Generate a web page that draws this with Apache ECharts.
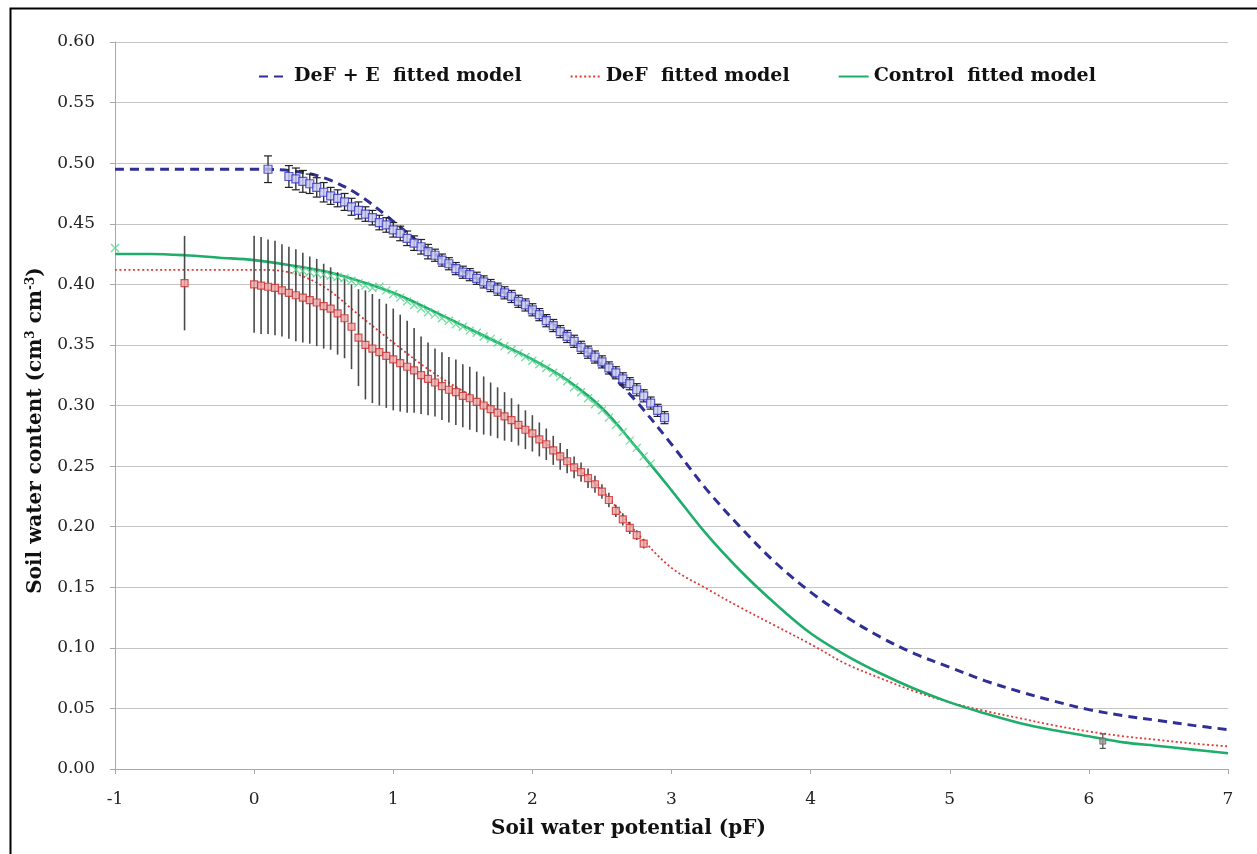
<!DOCTYPE html>
<html>
<head>
<meta charset="utf-8">
<script src="https://cdn.jsdelivr.net/npm/echarts@6/dist/echarts.min.js"></script>
<style>html,body{margin:0;padding:0;background:#fff}#c{width:1257px;height:854px}</style>
</head>
<body>
<div id="c"></div>
<script>
// ---- tick settings ----
const xMin = -1, xMax = 7, xStep = 1;
const yMin = 0, yMax = 0.6, yStep = 0.05;

// ---- fitted models, sampled every 0.25 pF ----
const fitX = [-1, -0.75, -0.5, -0.25, 0, 0.25, 0.5, 0.75, 1.0, 1.25, 1.5, 1.75, 2.0, 2.25, 2.5, 2.75, 3.0, 3.25, 3.5, 3.75, 4.0, 4.25, 4.5, 4.75, 5.0, 5.25, 5.5, 5.75, 6.0, 6.25, 6.5, 6.75, 7.0];
const defeFitY = [0.495, 0.495, 0.495, 0.495, 0.495, 0.494, 0.488, 0.474, 0.452, 0.429, 0.411, 0.396, 0.380, 0.358, 0.333, 0.303, 0.268, 0.231, 0.199, 0.170, 0.146, 0.126, 0.109, 0.095, 0.084, 0.073, 0.064, 0.056, 0.049, 0.044, 0.040, 0.036, 0.0325];
const defFitY = [0.412, 0.412, 0.412, 0.412, 0.412, 0.410, 0.398, 0.375, 0.352, 0.330, 0.312, 0.296, 0.277, 0.255, 0.230, 0.195, 0.166, 0.149, 0.133, 0.118, 0.103, 0.087, 0.075, 0.064, 0.055, 0.048, 0.042, 0.036, 0.031, 0.027, 0.024, 0.021, 0.0187];
const ctrlFitY = [0.425, 0.425, 0.424, 0.422, 0.420, 0.416, 0.411, 0.403, 0.393, 0.380, 0.366, 0.352, 0.338, 0.321, 0.298, 0.265, 0.230, 0.194, 0.163, 0.136, 0.112, 0.094, 0.079, 0.066, 0.055, 0.046, 0.038, 0.032, 0.027, 0.022, 0.019, 0.016, 0.013];

// ---- measured data: DeF + E (blue squares, small error bars) ----
const defeX = [0.10, 0.25, 0.30, 0.35, 0.40, 0.45, 0.50, 0.55, 0.60, 0.65, 0.70, 0.75, 0.80, 0.85, 0.90, 0.95, 1.00, 1.05, 1.10, 1.15, 1.20, 1.25, 1.30, 1.35, 1.40, 1.45, 1.50, 1.55, 1.60, 1.65, 1.70, 1.75, 1.80, 1.85, 1.90, 1.95, 2.00, 2.05, 2.10, 2.15, 2.20, 2.25, 2.30, 2.35, 2.40, 2.45, 2.50, 2.55, 2.60, 2.65, 2.70, 2.75, 2.80, 2.85, 2.90, 2.95];
const defeY = [0.495, 0.489, 0.487, 0.485, 0.483, 0.480, 0.476, 0.473, 0.471, 0.468, 0.464, 0.461, 0.458, 0.455, 0.451, 0.449, 0.445, 0.442, 0.438, 0.434, 0.431, 0.427, 0.424, 0.420, 0.417, 0.413, 0.410, 0.408, 0.405, 0.402, 0.399, 0.396, 0.393, 0.390, 0.386, 0.383, 0.379, 0.375, 0.370, 0.366, 0.361, 0.357, 0.353, 0.348, 0.344, 0.340, 0.336, 0.331, 0.327, 0.322, 0.318, 0.313, 0.308, 0.302, 0.296, 0.290];
const defeErr = [0.011, 0.009, 0.009, 0.009, 0.008, 0.008, 0.008, 0.007, 0.007, 0.007, 0.007, 0.007, 0.006, 0.006, 0.006, 0.006, 0.006, 0.006, 0.006, 0.006, 0.006, 0.006, 0.005, 0.005, 0.005, 0.005, 0.005, 0.005, 0.005, 0.005, 0.005, 0.005, 0.005, 0.005, 0.005, 0.005, 0.005, 0.005, 0.005, 0.005, 0.005, 0.005, 0.005, 0.005, 0.005, 0.005, 0.005, 0.005, 0.005, 0.005, 0.005, 0.005, 0.005, 0.005, 0.005, 0.005];

// ---- measured data: DeF (red squares, large error bars) ----
const defX = [-0.50, 0.00, 0.05, 0.10, 0.15, 0.20, 0.25, 0.30, 0.35, 0.40, 0.45, 0.50, 0.55, 0.60, 0.65, 0.70, 0.75, 0.80, 0.85, 0.90, 0.95, 1.00, 1.05, 1.10, 1.15, 1.20, 1.25, 1.30, 1.35, 1.40, 1.45, 1.50, 1.55, 1.60, 1.65, 1.70, 1.75, 1.80, 1.85, 1.90, 1.95, 2.00, 2.05, 2.10, 2.15, 2.20, 2.25, 2.30, 2.35, 2.40, 2.45, 2.50, 2.55, 2.60, 2.65, 2.70, 2.75, 2.80];
const defY = [0.401, 0.400, 0.399, 0.398, 0.397, 0.395, 0.393, 0.391, 0.389, 0.387, 0.385, 0.382, 0.380, 0.376, 0.372, 0.365, 0.356, 0.350, 0.347, 0.344, 0.341, 0.338, 0.335, 0.332, 0.329, 0.325, 0.322, 0.319, 0.316, 0.313, 0.311, 0.308, 0.306, 0.303, 0.300, 0.297, 0.294, 0.291, 0.288, 0.284, 0.280, 0.277, 0.272, 0.268, 0.263, 0.258, 0.254, 0.249, 0.245, 0.240, 0.235, 0.229, 0.222, 0.213, 0.206, 0.199, 0.193, 0.186];
const defErr = [0.039, 0.040, 0.040, 0.039, 0.039, 0.038, 0.038, 0.038, 0.037, 0.036, 0.036, 0.035, 0.034, 0.034, 0.033, 0.035, 0.040, 0.045, 0.045, 0.044, 0.043, 0.042, 0.040, 0.038, 0.035, 0.032, 0.030, 0.028, 0.028, 0.027, 0.027, 0.026, 0.026, 0.025, 0.024, 0.022, 0.021, 0.020, 0.018, 0.017, 0.016, 0.015, 0.014, 0.013, 0.012, 0.011, 0.010, 0.009, 0.008, 0.008, 0.007, 0.006, 0.006, 0.005, 0.005, 0.005, 0.004, 0.004];

// ---- measured data: Control (green crosses) ----
const ctrlX = [-1.00, 0.30, 0.35, 0.40, 0.45, 0.50, 0.55, 0.60, 0.65, 0.70, 0.75, 0.80, 0.85, 0.90, 0.95, 1.00, 1.05, 1.10, 1.15, 1.20, 1.25, 1.30, 1.35, 1.40, 1.45, 1.50, 1.55, 1.60, 1.65, 1.70, 1.75, 1.80, 1.85, 1.90, 1.95, 2.00, 2.05, 2.10, 2.15, 2.20, 2.25, 2.30, 2.35, 2.40, 2.45, 2.50, 2.55, 2.60, 2.65, 2.70, 2.75, 2.80, 2.85];
const ctrlY = [0.430, 0.412, 0.411, 0.410, 0.409, 0.408, 0.407, 0.406, 0.405, 0.403, 0.401, 0.399, 0.397, 0.398, 0.395, 0.392, 0.389, 0.386, 0.383, 0.380, 0.377, 0.375, 0.372, 0.370, 0.367, 0.365, 0.362, 0.360, 0.357, 0.355, 0.352, 0.349, 0.346, 0.343, 0.340, 0.337, 0.334, 0.331, 0.327, 0.324, 0.320, 0.315, 0.311, 0.306, 0.301, 0.296, 0.290, 0.284, 0.278, 0.271, 0.265, 0.258, 0.252];

// ---- single dry-end measurement ----
const dryX = [6.10];
const dryY = [0.023];
const dryErr = [0.006];

const zip2 = (xs, ys) => xs.map((x, i) => [x, ys[i]]);
const zip3 = (xs, ys, es) => xs.map((x, i) => [x, ys[i], es[i]]);

const serif = '"DejaVu Serif","Liberation Serif",serif';

function errBar(color, cap, width) {
  return function (params, api) {
    const x = api.value(0), y = api.value(1), e = api.value(2);
    const top = api.coord([x, y + e]);
    const bot = api.coord([x, y - e]);
    const children = [{
      type: 'line',
      shape: { x1: top[0], y1: top[1], x2: bot[0], y2: bot[1] },
      style: { stroke: color, lineWidth: width }
    }];
    if (cap > 0) {
      children.push({ type: 'line', shape: { x1: top[0] - cap, y1: top[1], x2: top[0] + cap, y2: top[1] }, style: { stroke: color, lineWidth: 1.2 } });
      children.push({ type: 'line', shape: { x1: bot[0] - cap, y1: bot[1], x2: bot[0] + cap, y2: bot[1] }, style: { stroke: color, lineWidth: 1.2 } });
    }
    return { type: 'group', children: children };
  };
}

const chart = echarts.init(document.getElementById('c'), null, { renderer: 'canvas' });
chart.setOption({
  backgroundColor: '#fff',
  animation: false,
  graphic: [{
    type: 'rect', left: 8, top: 6, z: -10, silent: true,
    shape: { width: 1270, height: 870 },
    style: { fill: 'none', stroke: '#000', lineWidth: 2 }
  }],
  grid: { left: 115, right: 29, top: 42, bottom: 85, containLabel: false },
  legend: {
    left: 253, top: 62,
    itemWidth: 30, itemHeight: 14, itemGap: 48,
    itemStyle: { opacity: 0 },
    data: ['DeF + E  fitted model', 'DeF  fitted model', 'Control  fitted model'],
    textStyle: { fontFamily: serif, fontWeight: 'bold', fontSize: 19, color: '#111' }
  },
  xAxis: {
    type: 'value', min: xMin, max: xMax, interval: xStep,
    name: 'Soil water potential (pF)', nameLocation: 'middle', nameGap: 50,
    nameTextStyle: { fontFamily: serif, fontWeight: 'bold', fontSize: 20, color: '#111', padding: [0, 86, 0, 0] },
    axisLine: { onZero: false, lineStyle: { color: '#a8a8a8', width: 1 } },
    axisTick: { show: true, length: 5, lineStyle: { color: '#a8a8a8' } },
    axisLabel: { fontFamily: serif, fontSize: 17, color: '#222', margin: 22 },
    splitLine: { show: false }
  },
  yAxis: {
    type: 'value', min: yMin, max: yMax, interval: yStep,
    name: 'Soil water content (cm{sup|3} cm{sup|-3})', nameLocation: 'middle', nameGap: 69, nameRotate: 90,
    nameTextStyle: {
      fontFamily: serif, fontWeight: 'bold', fontSize: 20, color: '#111', padding: [0, 50, 0, 0],
      rich: { sup: { fontFamily: serif, fontWeight: 'bold', fontSize: 12, color: '#111', verticalAlign: 'top', padding: [0, 0, 9, 0] } }
    },
    axisLine: { show: true, onZero: false, lineStyle: { color: '#a8a8a8', width: 1 } },
    axisTick: { show: true, length: 5, lineStyle: { color: '#a8a8a8' } },
    axisLabel: { fontFamily: serif, fontSize: 17, color: '#222', margin: 20, formatter: v => v.toFixed(2) },
    splitLine: { show: true, lineStyle: { color: '#c4c4c4', width: 1.2 } }
  },
  series: [
    {
      name: 'DeF + E  fitted model', type: 'line', smooth: 0.35, showSymbol: false, symbol: 'none', z: 1,
      data: zip2(fitX, defeFitY),
      lineStyle: { color: '#2f2f96', width: 3, type: [9, 6] }, itemStyle: { color: '#2f2f96' }
    },
    {
      name: 'DeF  fitted model', type: 'line', smooth: 0.35, showSymbol: false, symbol: 'none', z: 1,
      data: zip2(fitX, defFitY),
      lineStyle: { color: '#e23a34', width: 1.8, type: [2, 2.5] }, itemStyle: { color: '#e23a34' }
    },
    {
      name: 'Control  fitted model', type: 'line', smooth: 0.35, showSymbol: false, symbol: 'none', z: 1,
      data: zip2(fitX, ctrlFitY),
      lineStyle: { color: '#1ead6a', width: 2.6 }, itemStyle: { color: '#1ead6a' }
    },
    {
      type: 'custom', z: 2, silent: true,
      renderItem: errBar('#4a4a4a', 0, 1.6),
      encode: { x: 0, y: 1 },
      data: zip3(defX, defY, defErr)
    },
    {
      type: 'scatter', z: 3, silent: true,
      symbol: 'path://M0,0L10,10M10,0L0,10', symbolSize: 8,
      itemStyle: { color: 'rgba(0,0,0,0)', borderColor: '#4fd48a', borderWidth: 1.3 },
      data: zip2(ctrlX, ctrlY)
    },
    {
      type: 'scatter', z: 4, silent: true,
      symbol: 'rect', symbolSize: 7,
      itemStyle: { color: '#f2a8a8', borderColor: '#c93030', borderWidth: 1.2 },
      data: zip2(defX, defY)
    },
    {
      type: 'custom', z: 5, silent: true,
      renderItem: errBar('#222', 4, 1.3),
      encode: { x: 0, y: 1 },
      data: zip3(defeX, defeY, defeErr)
    },
    {
      type: 'scatter', z: 6, silent: true,
      symbol: 'rect', symbolSize: 8,
      itemStyle: { color: '#c8c8f4', borderColor: '#3535c2', borderWidth: 1.2 },
      data: zip2(defeX, defeY)
    },
    {
      type: 'custom', z: 5, silent: true,
      renderItem: errBar('#555', 3, 1.3),
      encode: { x: 0, y: 1 },
      data: zip3(dryX, dryY, dryErr)
    },
    {
      type: 'scatter', z: 6, silent: true,
      symbol: 'rect', symbolSize: 6,
      itemStyle: { color: '#999', borderColor: '#666', borderWidth: 1 },
      data: zip2(dryX, dryY)
    }
  ]
});
</script>
</body>
</html>
